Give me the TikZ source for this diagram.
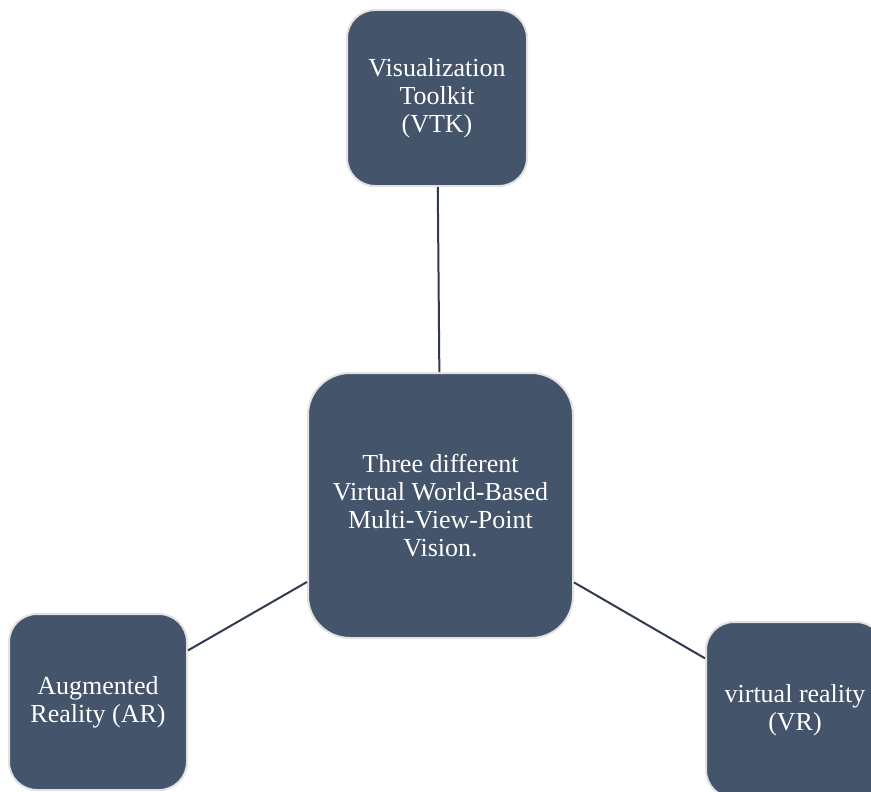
\documentclass[tikz,border=0pt]{standalone}
\usepackage{fontspec}
\setmainfont{Liberation Serif}
\definecolor{boxfill}{HTML}{44546A}
\definecolor{boxedge}{HTML}{E2E2E2}
\definecolor{linkcol}{HTML}{2F3B4D}
\begin{document}
\begin{tikzpicture}[x=1pt,y=-1pt,
  boxnode/.style={rectangle, fill=boxfill, draw=boxedge, line width=2pt, text=white,
    align=center, inner sep=0pt, font=\fontsize{26}{28}\selectfont},
  smallbox/.style={boxnode, minimum width=178pt, minimum height=176pt, rounded corners=28pt},
  bigbox/.style={boxnode, minimum width=265pt, minimum height=265pt, rounded corners=42pt},
  link/.style={draw=linkcol, line width=2pt}]
\useasboundingbox (0,0) rectangle (871,792);
\clip (0,0) rectangle (871,792);
\node[smallbox, minimum width=180pt] (vtk) at (437,98) {Visualization\\Toolkit\\(VTK)};
\node[bigbox] (ctr) at (440.5,505.5) {Three different\\Virtual World-Based\\Multi-View-Point\\Vision.};
\node[smallbox] (ar) at (98,702) {Augmented\\Reality (AR)};
\node[smallbox] (vr) at (795,710) {virtual reality\\(VR)};
\draw[link] (vtk) -- (ctr);
\draw[link] (ar) -- (ctr);
\draw[link] (ctr) -- (vr);
\end{tikzpicture}
\end{document}
